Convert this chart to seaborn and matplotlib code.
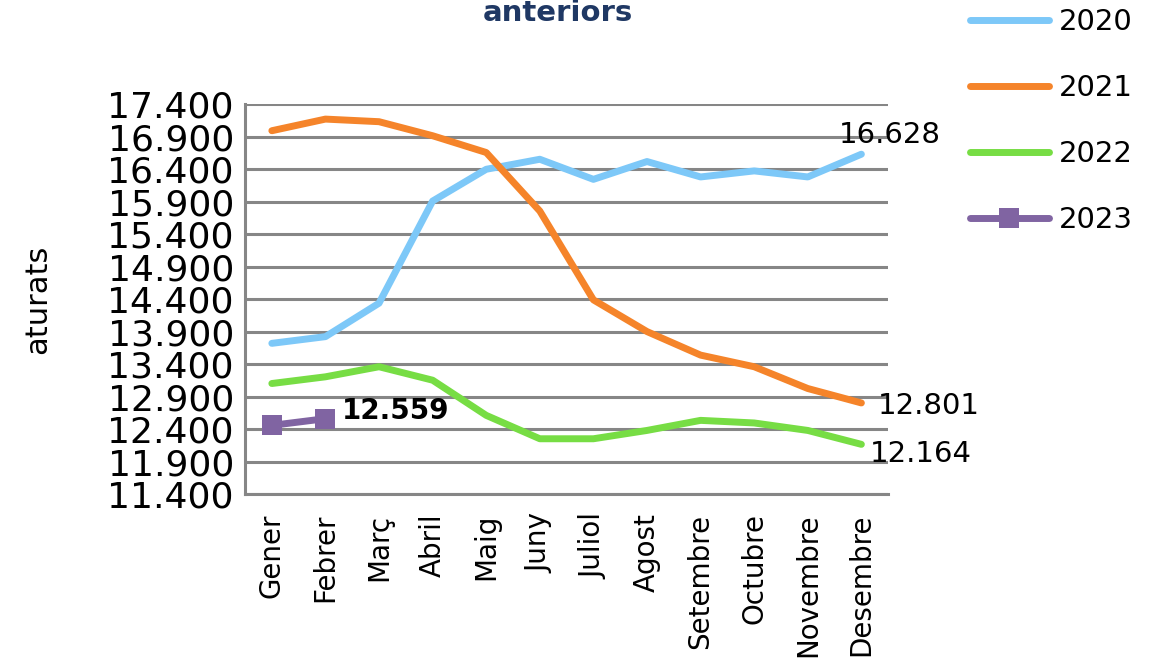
import numpy as np
import pandas as pd

import matplotlib
matplotlib.use("Agg")

import matplotlib.pyplot as plt
import matplotlib.ticker as mticker
import seaborn as sns

months = ["Gener", "Febrer", "Març", "Abril", "Maig", "Juny", "Juliol",
          "Agost", "Setembre", "Octubre", "Novembre", "Desembre"]
aturats_2020 = [13718, 13821, 14336, 15907, 16396, 16550, 16241, 16515,
                16278, 16371, 16278, 16628]
aturats_2021 = [16989, 17168, 17128, 16912, 16654, 15753, 14387, 13899,
                13537, 13358, 13023, 12801]
aturats_2022 = [13100, 13203, 13358, 13151, 12610, 12250, 12250, 12378,
                12533, 12493, 12378, 12164]
aturats_2023 = [12456, 12559]

years = ["2020", "2021", "2022", "2023"]
series = [aturats_2020, aturats_2021, aturats_2022, aturats_2023]
colors = ["#7DC8F8", "#F5842A", "#77DD44", "#8064A2"]

sns.set_style("white")
plt.rcParams["font.family"] = ["DejaVu Sans"]
plt.rcParams["text.color"] = "black"
plt.rcParams["xtick.color"] = "black"
plt.rcParams["ytick.color"] = "black"
plt.rcParams["axes.labelcolor"] = "black"

fig = plt.figure(figsize=(11.63, 6.6), dpi=100)
ax = fig.add_axes([0.2107, 0.2515, 0.553, 0.5909])

for year, vals, col in zip(years, series, colors):
    df = pd.DataFrame({"mes": np.arange(len(vals)), "aturats": vals})
    marker = "s" if year == "2023" else None
    sns.lineplot(data=df, x="mes", y="aturats", ax=ax, color=col, linewidth=5,
                 marker=marker, markersize=14, markeredgewidth=0,
                 label=year, sort=False, solid_capstyle="round")

ax.set_xlim(-0.5, 11.5)
ax.set_ylim(11400, 17400)
ax.set_yticks(np.arange(11400, 17401, 500))
ax.yaxis.set_major_formatter(mticker.FuncFormatter(
    lambda v, p: f"{int(v):,}".replace(",", ".")))
ax.set_xticks(range(len(months)))
ax.set_xticklabels(months, rotation=90, fontsize=20)
ax.tick_params(axis="y", labelsize=26, length=6, color="#868686", width=2,
               labelcolor="black", pad=2)
ax.tick_params(axis="x", length=0, pad=14, labelcolor="black")
ax.grid(axis="y", color="#868686", linewidth=2.2)
ax.set_axisbelow(True)
for side in ["top", "right"]:
    ax.spines[side].set_visible(False)
for side in ["left", "bottom"]:
    ax.spines[side].set_color("#868686")
    ax.spines[side].set_linewidth(2.2)
ax.set_xlabel("")
ax.set_ylabel("aturats", fontsize=22, labelpad=40)

# etiquetes de dades
ax.annotate("16.628", (11, aturats_2020[-1]), xytext=(28, 19),
            textcoords="offset pixels", ha="center", va="center", fontsize=21)
ax.annotate("12.801", (11, aturats_2021[-1]), xytext=(16, -3),
            textcoords="offset pixels", ha="left", va="center", fontsize=21)
ax.annotate("12.164", (11, aturats_2022[-1]), xytext=(8, -10),
            textcoords="offset pixels", ha="left", va="center", fontsize=21)
ax.annotate("12.559", (1, aturats_2023[-1]), xytext=(16, 8),
            textcoords="offset pixels", ha="left", va="center", fontsize=20,
            fontweight="bold")

fig.text(0.48, 1 - 13 / 660, "anteriors", ha="center", va="center",
         fontsize=21, fontweight="bold", color="#1F3864")

ax.legend(loc="upper left", bbox_to_anchor=(0.834, 1 - 8 / 660),
          bbox_transform=fig.transFigure, frameon=False, fontsize=21,
          handlelength=2.7, handletextpad=0.35, labelspacing=1.3,
          borderpad=0, borderaxespad=0)

plt.savefig("out.png", dpi=100)
plt.close()
